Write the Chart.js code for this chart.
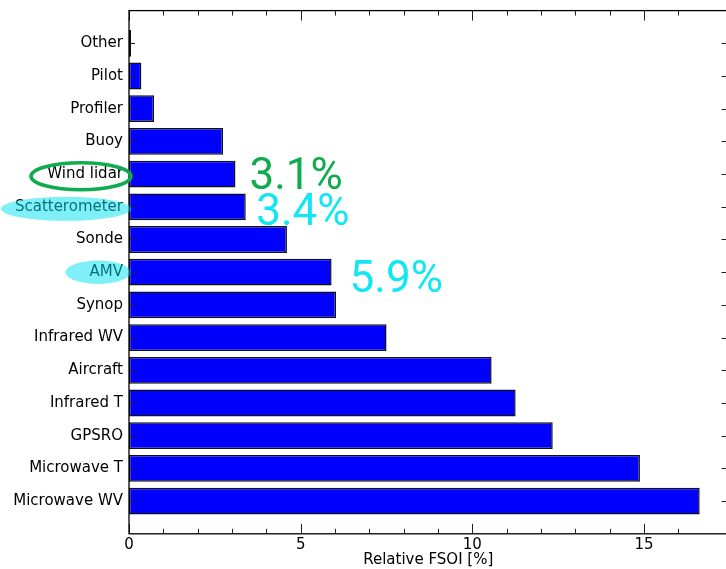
<!DOCTYPE html>
<html>
<head>
<meta charset="utf-8">
<script src="https://cdn.jsdelivr.net/npm/chart.js@4/dist/chart.umd.min.js"></script>
<style>
  html, body { margin: 0; padding: 0; background: #fff; overflow: hidden; width: 726px; height: 569px; }
  #wrap { width: 740px; height: 569px; }
</style>
</head>
<body>
<div id="wrap"><canvas id="c" width="740" height="569"></canvas></div>
<script>
// Observation types, top to bottom
const categories = [
  'Other', 'Pilot', 'Profiler', 'Buoy', 'Wind lidar', 'Scatterometer', 'Sonde',
  'AMV', 'Synop', 'Infrared WV', 'Aircraft', 'Infrared T', 'GPSRO',
  'Microwave T', 'Microwave WV'
];
// Relative FSOI per observation type [%]
const fsoiValues = [
  0.06, 0.36, 0.73, 2.74, 3.1, 3.4, 4.60,
  5.9, 6.03, 7.50, 10.56, 11.26, 12.34,
  14.88, 16.62
];
// Labelled ticks on the FSOI axis
const xTickLabels = [0, 5, 10, 15];

// One empty slot above and below the bars
const labels = [''].concat(categories, ['']);
const values = [null].concat(fsoiValues, [null]);

const LEFT = 129, TOP = 10.6, RIGHT = 727.5, BOTTOM = 533.8;
const CW = 740, CH = 569;

// Inward ticks on all four sides plus the axes frame
const frameTicks = {
  id: 'frameTicks',
  afterDatasetsDraw(chart) {
    const { ctx, chartArea: a, scales: { x, y } } = chart;
    ctx.save();
    ctx.strokeStyle = '#222';
    ctx.lineWidth = 1;
    const seg = (x1, y1, x2, y2) => { ctx.beginPath(); ctx.moveTo(x1, y1); ctx.lineTo(x2, y2); ctx.stroke(); };
    x.ticks.forEach(t => {
      if (!Number.isInteger(t.value)) return;
      const px = Math.round(x.getPixelForValue(t.value)) + 0.5;
      const len = xTickLabels.includes(t.value) ? 10 : 5;
      seg(px, a.bottom, px, a.bottom - len);
      seg(px, a.top, px, a.top + len);
    });
    labels.forEach((lab, i) => {
      if (!lab) return;
      const py = Math.round(y.getPixelForValue(i)) + 0.5;
      seg(a.left, py, a.left + 6, py);
      seg(a.right, py, a.right - 6, py);
    });
    ctx.strokeStyle = '#000';
    ctx.lineWidth = 1.3;
    ctx.strokeRect(a.left, a.top, a.right - a.left, a.bottom - a.top);
    ctx.restore();
  }
};

// Call-outs: outline/highlight around a label and the value beside the bar
const callouts = {
  id: 'callouts',
  afterDraw(chart) {
    const { ctx, chartArea: a, scales: { x, y } } = chart;
    const rowY = name => y.getPixelForValue(categories.indexOf(name) + 1);
    const valOf = name => fsoiValues[categories.indexOf(name)];
    ctx.save();

    // Wind lidar: green ring
    let cy = rowY('Wind lidar');
    ctx.strokeStyle = '#0fab4f';
    ctx.lineWidth = 3.6;
    ctx.beginPath();
    ctx.ellipse(a.left - 48, cy + 2.2, 50, 13.5, 0, 0, Math.PI * 2);
    ctx.stroke();

    // Scatterometer and AMV: translucent cyan
    ctx.fillStyle = 'rgba(0, 226, 240, 0.5)';
    cy = rowY('Scatterometer');
    ctx.beginPath();
    ctx.ellipse(a.left - 63, cy + 2, 65, 12, 0, 0, Math.PI * 2);
    ctx.fill();
    cy = rowY('AMV');
    ctx.beginPath();
    ctx.ellipse(a.left - 31, cy, 32.5, 11.7, 0, 0, Math.PI * 2);
    ctx.fill();

    // Values beside the bars
    ctx.font = '44px Roboto';
    ctx.textBaseline = 'alphabetic';
    ctx.textAlign = 'left';
    const put = (name, color, dx, dy) => {
      const v = valOf(name);
      ctx.fillStyle = color;
      ctx.fillText(v.toFixed(1) + '%', x.getPixelForValue(v) + dx, rowY(name) + dy);
    };
    put('Wind lidar', '#0fab4f', 14, 15.2);
    put('Scatterometer', '#12e6f3', 10.5, 18.2);
    put('AMV', '#12e6f3', 18, 19.5);
    ctx.restore();
  }
};

new Chart(document.getElementById('c'), {
  type: 'bar',
  data: {
    labels: labels,
    datasets: [{
      data: values,
      backgroundColor: '#0000ff',
      borderColor: '#111',
      borderWidth: 1.5,
      borderSkipped: false,
      barPercentage: 0.82,
      categoryPercentage: 1.0
    }]
  },
  options: {
    indexAxis: 'y',
    responsive: false,
    animation: false,
    devicePixelRatio: 1,
    layout: { padding: { top: TOP, right: CW - RIGHT, left: 0, bottom: 0 } },
    plugins: { legend: { display: false }, tooltip: { enabled: false } },
    scales: {
      x: {
        type: 'linear',
        min: 0,
        max: 17.43,
        grid: { display: false, drawTicks: false },
        border: { display: false },
        ticks: {
          stepSize: 1,
          autoSkip: false,
          maxRotation: 0,
          padding: 2,
          color: '#000',
          font: { family: 'DejaVu Sans', size: 15 },
          callback: v => xTickLabels.includes(v) ? String(v) : ''
        },
        title: {
          display: true,
          text: 'Relative FSOI [%]',
          color: '#000',
          font: { family: 'DejaVu Sans', size: 15 },
          padding: { top: 0, bottom: 0 }
        },
        afterFit(s) {
          s.height = CH - BOTTOM;
          s.paddingLeft = 0; s.paddingRight = 0;
        }
      },
      y: {
        type: 'category',
        offset: false,
        grid: { display: false, drawTicks: false },
        border: { display: false },
        ticks: {
          autoSkip: false,
          padding: 6,
          color: '#000',
          font: { family: 'DejaVu Sans', size: 15 }
        },
        afterFit(s) {
          s.width = LEFT;
          s.paddingTop = 0; s.paddingBottom = 0;
        }
      }
    }
  },
  plugins: [frameTicks, callouts]
});
</script>
</body>
</html>
